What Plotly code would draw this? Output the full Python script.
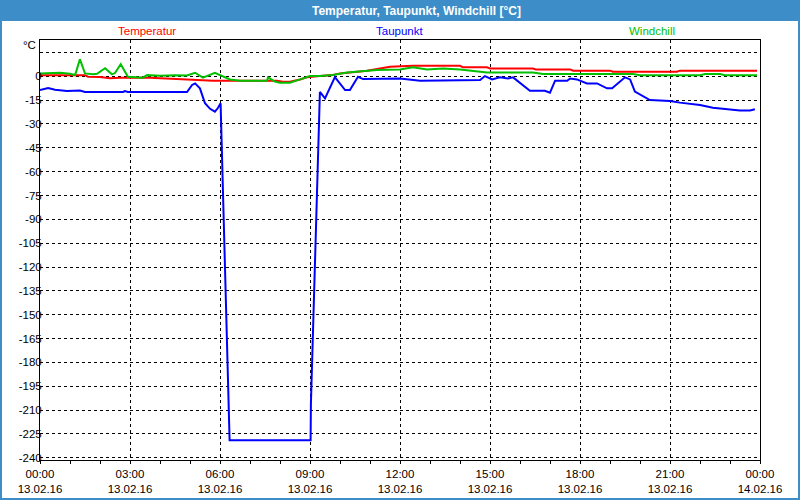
import plotly.graph_objects as go

# ---- data (hours after 13.02.16 00:00, °C) ----
temp_t = [0, 1.5, 1.6, 2.0, 2.33, 2.67, 3.67, 4.9, 5.33, 5.77, 6.67, 7.9, 8.1, 8.33, 8.67, 8.9,
          9.33, 9.77, 10.0, 10.67, 10.9, 11.67, 12.43, 14.0, 14.1, 14.9, 15.0, 16.43, 16.53,
          17.67, 17.77, 19.0, 19.1, 21.23, 21.33, 23.9]
temp_v = [0.7, 0.7, -0.3, -0.5, -1.3, -1.0, -1.0, -1.8, -2.2, -2.8, -2.8, -2.8, -3.4, -3.4, -2.0, -0.7,
          0.1, 0.8, 1.8, 2.8, 3.5, 6.0, 6.6, 6.6, 5.6, 5.6, 4.9, 4.9, 4.3,
          4.3, 3.5, 3.5, 2.8, 2.8, 3.5, 3.5]

wind_t = [0, 0.33, 0.67, 1.0, 1.17, 1.33, 1.5, 1.77, 1.9, 2.17, 2.4, 2.5, 2.69, 2.93, 3.43, 3.57, 4.0,
          4.5, 4.9, 5.17, 5.43, 5.83, 6.1, 6.33, 6.67, 7.57, 7.6, 7.83, 8.0, 8.33, 8.67, 9.0,
          9.33, 9.77, 10.23, 11.23, 12.0, 12.43, 12.9, 13.43, 14.0, 14.43, 14.9, 16.43, 16.77,
          19.77, 20.0, 22.0, 22.17, 22.67, 22.83, 23.9]
wind_v = [1.8, 2.2, 2.2, 1.5, 0.8, 10.6, 1.8, 1.2, 1.5, 5.0, 1.2, 2.0, 7.6, -0.3, -0.9, 0.7, 0.3,
          0.7, 0.5, 2.2, -0.9, 2.2, 0.1, -2.0, -2.8, -2.8, -0.7, -3.4, -4.1, -4.1, -2.0, 0.1,
          0.1, 0.8, 2.4, 3.9, 4.3, 5.6, 4.3, 4.9, 4.3, 3.5, 2.4, 2.4, 1.4,
          1.4, 0.7, 0.7, 1.4, 1.4, 0.7, 0.7]

dew_t = [0, 0.27, 0.5, 0.9, 1.33, 1.5, 2.77, 2.83, 2.93, 4.9, 5.07, 5.17, 5.33, 5.5, 5.67, 5.83,
         5.93, 6.02, 6.32, 9.02, 9.03, 9.33, 9.5, 9.83, 10.17, 10.33, 10.6, 10.77, 12.0, 12.67,
         14.67, 14.83, 15.07, 15.33, 15.6, 15.77, 16.33, 16.83, 17.0, 17.17, 17.57, 17.67, 17.9,
         18.23, 18.57, 18.9, 19.07, 19.5, 19.67, 19.83, 20.33, 21.0, 21.33, 22.0, 22.43, 23.33,
         23.67, 23.83]
dew_v = [-8.7, -7.4, -8.5, -9.3, -9.0, -9.9, -9.9, -9.3, -9.9, -9.9, -5.5, -4.5, -7.6, -17.0, -20.5, -22.3,
         -20.0, -17.0, -229.0, -229.0, -206.4, -9.9, -13.9, -0.5, -8.7, -8.7, -0.3, -1.8, -1.4, -2.8,
         -2.4, 0.1, -2.0, -0.7, -1.4, -0.7, -9.1, -9.1, -10.3, -2.8, -2.8, -1.4, -2.0,
         -4.5, -4.5, -7.6, -7.6, -0.7, -2.0, -9.7, -15.0, -15.6, -16.6, -18.1, -19.8, -21.6,
         -21.6, -20.8]

x_tickvals = [0, 3, 6, 9, 12, 15, 18, 21, 24]
x_ticktext = ["00:00<br>13.02.16", "03:00<br>13.02.16", "06:00<br>13.02.16", "09:00<br>13.02.16",
              "12:00<br>13.02.16", "15:00<br>13.02.16", "18:00<br>13.02.16", "21:00<br>13.02.16",
              "00:00<br>14.02.16"]
y_tickvals = list(range(-240, 16, 15))
y_ticktext = [str(v) if v != 15 else "" for v in y_tickvals]

title_text = "Temperatur, Taupunkt, Windchill [°C]"
series_names = ["Temperatur", "Taupunkt", "Windchill"]
series_colors = ["#ff0000", "#0000ff", "#00c000"]

# ---- layout helpers (pixel -> paper) ----
W, H = 800, 500
L, R, T, B = 40, 40, 40, 40
PW, PH = W - L - R, H - T - B
def px(x):
    return (x - L) / PW
def py(y):
    return (H - B - y) / PH

FONT = "Liberation Sans, Arial, sans-serif"

fig = go.Figure()
fig.add_trace(go.Scatter(x=temp_t, y=temp_v, mode="lines", name=series_names[0],
                         line=dict(color=series_colors[0], width=2)))
fig.add_trace(go.Scatter(x=wind_t, y=wind_v, mode="lines", name=series_names[2],
                         line=dict(color=series_colors[2], width=2)))
fig.add_trace(go.Scatter(x=dew_t, y=dew_v, mode="lines", name=series_names[1],
                         line=dict(color=series_colors[1], width=2)))

fig.update_layout(
    width=W, height=H,
    margin=dict(l=L, r=R, t=T, b=B, autoexpand=False),
    paper_bgcolor="white", plot_bgcolor="white",
    showlegend=False,
    font=dict(family=FONT, size=12, color="black"),
)
fig.update_xaxes(
    range=[0, 24], tickvals=x_tickvals, ticktext=x_ticktext, automargin=False,
    showgrid=True, gridcolor="black", griddash="3px,3px", gridwidth=1,
    zeroline=False, showline=True, linecolor="black", linewidth=1, mirror=True,
    ticks="outside", ticklen=3, tickcolor="black",
    minor=dict(dtick=1, tick0=0, ticks="outside", ticklen=3, tickcolor="black", showgrid=False),
    tickfont=dict(size=11.5),
)
fig.update_yaxes(
    range=[-241.4, 22.8], tickvals=y_tickvals, ticktext=y_ticktext, automargin=False,
    showgrid=True, gridcolor="black", griddash="3px,3px", gridwidth=1,
    zeroline=False, showline=True, linecolor="black", linewidth=1, mirror=True,
    ticks="", tickfont=dict(size=11.5), ticklabelstandoff=-5,
)

# title band and frame
band = "#3c8dc8"
fig.add_shape(type="rect", xref="paper", yref="paper", x0=px(0), x1=px(800), y0=py(21), y1=py(0),
              fillcolor=band, line_width=0, layer="below")
fig.add_shape(type="rect", xref="paper", yref="paper", x0=px(0), x1=px(2), y0=py(500), y1=py(0),
              fillcolor=band, line_width=0, layer="below")
fig.add_shape(type="rect", xref="paper", yref="paper", x0=px(798), x1=px(800), y0=py(500), y1=py(0),
              fillcolor=band, line_width=0, layer="below")
fig.add_shape(type="rect", xref="paper", yref="paper", x0=px(0), x1=px(800), y0=py(500), y1=py(498),
              fillcolor=band, line_width=0, layer="below")

fig.add_annotation(text="<b>" + title_text + "</b>", xref="paper", yref="paper", x=px(416), y=py(11),
                   showarrow=False, xanchor="center", yanchor="middle",
                   font=dict(family=FONT, size=12, color="white"))
for name, color, xc in zip(series_names, series_colors, [147, 399, 652]):
    fig.add_annotation(text=name, xref="paper", yref="paper", x=px(xc), y=py(31),
                       showarrow=False, xanchor="center", yanchor="middle",
                       font=dict(family=FONT, size=11.5, color=color))
fig.add_annotation(text="°C", xref="paper", yref="paper", x=px(38), y=py(45),
                   showarrow=False, xanchor="right", yanchor="middle",
                   font=dict(family=FONT, size=11.5, color="black"))

fig.write_html("out.html")
